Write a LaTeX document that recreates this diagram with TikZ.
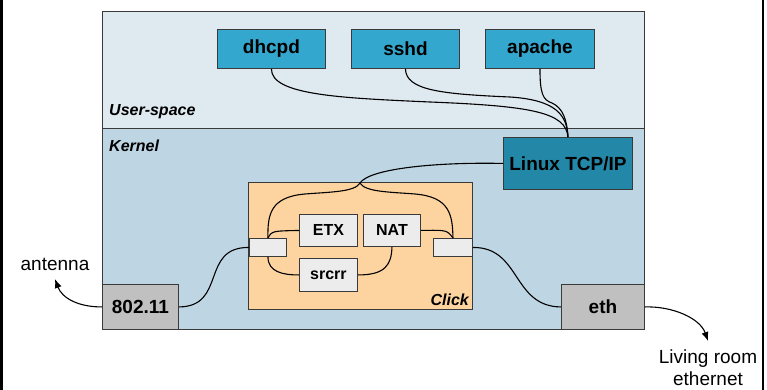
\documentclass[tikz,border=0pt]{standalone}
\usepackage{fontspec}
\setmainfont{Liberation Sans}
\usetikzlibrary{arrows.meta}

\definecolor{userbg}{HTML}{DFE9F0}
\definecolor{kernbg}{HTML}{BED6E4}
\definecolor{appfill}{HTML}{33A7CD}
\definecolor{tcpfill}{HTML}{2387A8}
\definecolor{clickfill}{HTML}{FDD4A0}
\definecolor{elemfill}{HTML}{ECECEC}
\definecolor{devfill}{HTML}{C0C0C0}
\definecolor{edgegray}{HTML}{3A3A3A}

\begin{document}
\begin{tikzpicture}[x=1pt,y=-1pt,
  panel/.style={draw=edgegray, line width=1pt, inner sep=0pt, anchor=north west},
  bigbox/.style={draw=edgegray, line width=0.9pt, inner sep=0pt, anchor=north west,
                 font=\bfseries\fontsize{19}{22}\selectfont},
  smallbox/.style={draw=edgegray, line width=0.9pt, inner sep=0pt, anchor=north west,
                   fill=elemfill, font=\bfseries\fontsize{16}{19}\selectfont},
  regionlabel/.style={inner sep=0pt, font=\bfseries\itshape\fontsize{16}{19}\selectfont},
  plainlabel/.style={inner sep=0pt, align=center, font=\fontsize{19}{21.5}\selectfont},
  wire/.style={draw=black, line width=1.1pt},
  outarrow/.style={wire, -{Latex[length=9pt,width=7pt]}}
]
\useasboundingbox (0,0) rectangle (767,390);

% page side rules
\draw[line width=2.6pt] (1.3,0) -- (1.3,390);
\draw[line width=2.4pt] (763.2,0) -- (763.2,390);

% user-space and kernel regions
\node[panel, fill=userbg, minimum width=542pt, minimum height=117pt] (user) at (102,11) {};
\node[panel, fill=kernbg, minimum width=542pt, minimum height=201pt] (kernel) at (102,128) {};
\node[regionlabel, anchor=base west] (userlbl) at (109,116) {User-space};
\node[regionlabel, anchor=base west] (kernlbl) at (109,152) {Kernel};

% user-space daemons
\node[bigbox, fill=appfill, minimum width=108pt, minimum height=39pt] (dhcpd) at (217,29) {dhcpd};
\node[bigbox, fill=appfill, minimum width=108pt, minimum height=39pt] (sshd) at (351,29) {sshd};
\node[bigbox, fill=appfill, minimum width=109pt, minimum height=39pt] (apache) at (485,29) {apache};

% kernel stack
\node[bigbox, fill=tcpfill, minimum width=129pt, minimum height=52pt] (tcp) at (503,137) {Linux TCP/IP};

% Click router
\node[panel, fill=clickfill, minimum width=224pt, minimum height=127pt] (click) at (248,182) {};
\node[regionlabel, anchor=base east] (clicklbl) at (469,305) {Click};
\node[smallbox, minimum width=58pt, minimum height=32pt] (etx) at (299,214) {ETX};
\node[smallbox, minimum width=57pt, minimum height=32pt] (nat) at (363,214) {NAT};
\node[smallbox, minimum width=58pt, minimum height=33pt] (srcrr) at (299,258) {srcrr};
\node[smallbox, minimum width=37pt, minimum height=18pt] (lport) at (249,238) {};
\node[smallbox, minimum width=39pt, minimum height=18pt] (rport) at (433,238) {};

% network devices
\node[bigbox, fill=devfill, minimum width=76pt, minimum height=45pt] (wifi) at (102,284) {802.11};
\node[bigbox, fill=devfill, minimum width=83pt, minimum height=45pt] (eth) at (561,284) {eth};

% outside-world labels
\node[plainlabel, anchor=base] (antenna) at (55,270) {antenna};
\node[plainlabel, anchor=north] (lan) at (708,350) {Living room\\ethernet};
\coordinate (antennatip) at (55,279);
\coordinate (lantip) at (708,341);

% daemons to the TCP/IP stack
\draw[wire] (dhcpd.south) .. controls (271,95) and (340,98) .. (430,102)
            .. controls (530,106) and (566,112) .. (tcp.north);
\draw[wire] (sshd.south) .. controls (406,90) and (440,94) .. (510,97)
            .. controls (556,100) and (567,115) .. (tcp.north);
\draw[wire] (apache.south) .. controls (540,94) and (543,100) .. (552,103)
            .. controls (563,108) and (567,120) .. (tcp.north);

% TCP/IP stack into Click
\coordinate (split) at (360,183);
\draw[wire] (tcp.west) .. controls (440,162) and (370,168) .. (split);
\draw[wire] (split) .. controls (355,192) and (330,192) .. (305,194)
            .. controls (270,197) and (267.5,215) .. (lport.north);
\draw[wire] (split) .. controls (365,192) and (390,192) .. (415,194)
            .. controls (450,197) and (452.5,215) .. (rport.north);

% paths inside Click
\draw[wire] (lport.north) .. controls (272,231) .. (etx.west);
\draw[wire] (lport.south) .. controls (268,272) and (283,275) .. (srcrr.west);
\draw[wire] (srcrr.east) .. controls (385,275) and (391.5,265) .. (nat.south);
\draw[wire] (nat.east) .. controls (447,230) .. (rport.north);

% Click to the devices
\draw[wire] (lport.west) .. controls (200,247) and (227,306.5) .. (wifi.east);
\draw[wire] (rport.east) .. controls (521,247) and (512,306.5) .. (eth.west);

% devices to the outside
\draw[outarrow] (wifi.west) .. controls (78,307) and (62,298) .. (antennatip);
\draw[outarrow] (eth.east) .. controls (672,306) and (700,318) .. (lantip);
\end{tikzpicture}
\end{document}
